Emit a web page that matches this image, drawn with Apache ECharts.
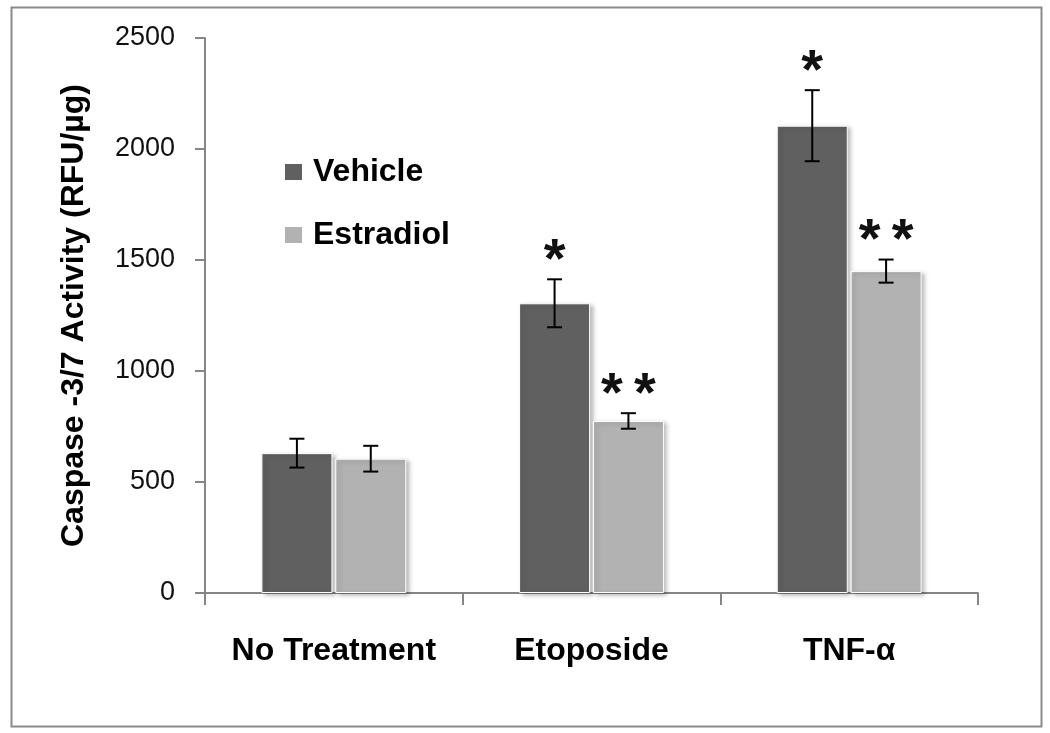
<!DOCTYPE html>
<html>
<head>
<meta charset="utf-8">
<script src="https://cdn.jsdelivr.net/npm/echarts@6/dist/echarts.min.js"></script>
<style>html,body{margin:0;padding:0;background:#fff}#chart{width:1050px;height:733px}</style>
</head>
<body>
<div id="chart"></div>
<script>
var categories = ['No Treatment', 'Etoposide', 'TNF-\u03b1'];
var seriesNames = ['Vehicle', 'Estradiol'];
var vehicle = [630, 1305, 2105];
var vehicleErr = [65, 108, 160];
var estradiol = [605, 775, 1450];
var estradiolErr = [58, 35, 52];
var vehicleSig = ['', '*', '*'];
var estradiolSig = ['', '**', '**'];
var yTicks = [0, 500, 1000, 1500, 2000, 2500];
var yTitle = 'Caspase -3/7 Activity (RFU/\u00b5g)';

var FONT = '"Liberation Sans", Arial, sans-serif';
var BAR_W = 71, BAR_GAP = 0.04;
var colors = ['#606060', '#b2b2b2'];

function errData(vals, errs) {
  return vals.map(function (v, i) { return [i, v, errs[i]]; });
}

function makeErrRender(sideSign, sigArr) {
  return function (params, api) {
    var idx = api.value(0), v = api.value(1), e = api.value(2);
    var sig = sigArr[params.dataIndex] || '';
    var off = sideSign * (BAR_W * (1 + BAR_GAP)) / 2;
    var top = api.coord([idx, v + e]);
    var bot = api.coord([idx, v - e]);
    var x = top[0] + off;
    var cap = 7.5;
    var style = { stroke: '#000', lineWidth: 2 };
    var children = [
      { type: 'line', shape: { x1: x, y1: top[1], x2: x, y2: bot[1] }, style: style },
      { type: 'line', shape: { x1: x - cap, y1: top[1], x2: x + cap, y2: top[1] }, style: style },
      { type: 'line', shape: { x1: x - cap, y1: bot[1], x2: x + cap, y2: bot[1] }, style: style }
    ];
    var chars = sig.split('');
    var spacing = 33;
    chars.forEach(function (ch, k) {
      var cx = x + (k - (chars.length - 1) / 2) * spacing;
      children.push({
        type: 'text',
        style: {
          text: ch, x: cx, y: top[1] - 18,
          align: 'center', verticalAlign: 'middle',
          font: 'bold 56px ' + FONT, fill: '#111'
        }
      });
    });
    return { type: 'group', children: children };
  };
}

var chart = echarts.init(document.getElementById('chart'));
chart.setOption({
  animation: false,
  backgroundColor: '#fff',
  graphic: [{
    type: 'rect', left: 9, top: 5, z: -1,
    shape: { width: 1030, height: 719 },
    style: { fill: 'none', stroke: '#8a8a8a', lineWidth: 2 }
  }],
  grid: { left: 205, right: 72, top: 38, bottom: 140 },
  legend: {
    orient: 'vertical', left: 283, top: 156, padding: 0,
    itemWidth: 19, itemHeight: 18, itemGap: 31,
    icon: 'rect',
    data: seriesNames,
    textStyle: { fontFamily: FONT, fontSize: 32, fontWeight: 'bold', color: '#000', padding: [0, 0, 0, 5] }
  },
  xAxis: {
    type: 'category', data: categories,
    axisLine: { lineStyle: { color: '#868686', width: 2 } },
    axisTick: { show: true, length: 12, interval: 0, lineStyle: { color: '#868686', width: 2 } },
    axisLabel: { margin: 42, fontFamily: FONT, fontSize: 32, fontWeight: 'bold', color: '#000', interval: 0 }
  },
  yAxis: {
    type: 'value', min: 0, max: 2500, interval: 500,
    name: yTitle, nameLocation: 'middle', nameGap: 115,
    nameTextStyle: { fontFamily: FONT, fontSize: 32, fontWeight: 'bold', color: '#000' },
    axisLine: { show: true, lineStyle: { color: '#868686', width: 2 } },
    axisTick: { show: true, length: 10, lineStyle: { color: '#868686', width: 2 } },
    splitLine: { show: false },
    axisLabel: {
      margin: 30, fontFamily: FONT, fontSize: 27, color: '#111',
      formatter: function (v) { return yTicks.indexOf(v) >= 0 ? String(v) : ''; }
    }
  },
  series: [
    {
      name: seriesNames[0], type: 'bar', data: vehicle, barWidth: BAR_W, barGap: (BAR_GAP * 100) + '%',
      itemStyle: { color: colors[0], borderColor: '#fff', borderWidth: 1, shadowColor: 'rgba(0,0,0,0.25)', shadowBlur: 4, shadowOffsetX: 3, shadowOffsetY: 2 }
    },
    {
      name: seriesNames[1], type: 'bar', data: estradiol, barWidth: BAR_W,
      itemStyle: { color: colors[1], borderColor: '#fff', borderWidth: 1, shadowColor: 'rgba(0,0,0,0.25)', shadowBlur: 4, shadowOffsetX: 3, shadowOffsetY: 2 }
    },
    {
      type: 'custom', renderItem: makeErrRender(-1, vehicleSig), data: errData(vehicle, vehicleErr), z: 5,
      encode: { x: 0, y: 1 }
    },
    {
      type: 'custom', renderItem: makeErrRender(1, estradiolSig), data: errData(estradiol, estradiolErr), z: 5,
      encode: { x: 0, y: 1 }
    }
  ]
});
</script>
</body>
</html>
